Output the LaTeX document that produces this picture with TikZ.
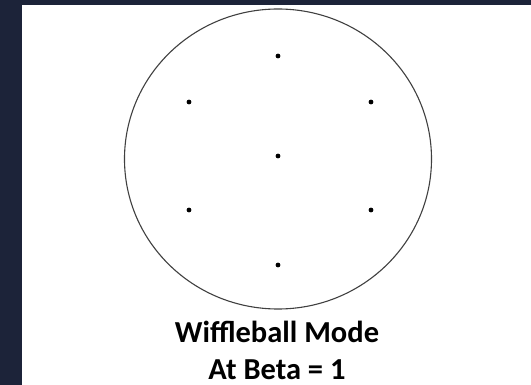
\documentclass[tikz,border=0pt]{standalone}
\usepackage{fontspec}
\setmainfont{Carlito}
\definecolor{navy}{HTML}{1C2339}
\begin{document}
\begin{tikzpicture}[x=1pt,y=-1pt,
  dot/.style={circle,fill=black,inner sep=0pt,minimum size=4.8pt},
  lbl/.style={font=\bfseries\fontsize{30.5}{38}\selectfont,align=center,text=black,inner sep=0pt,text depth=0pt}]
\useasboundingbox (0,0) rectangle (531,385);
\fill[navy] (0,0) rectangle (531,385);
\fill[white] (22,5) rectangle (531,385);
\draw[line width=1.1pt,black!75] (278,159) ellipse [x radius=153.5,y radius=150];
\node[dot] (d1) at (278,56) {};
\node[dot] (d2) at (189,102) {};
\node[dot] (d3) at (371,102) {};
\node[dot] (d4) at (278,156) {};
\node[dot] (d5) at (189,210) {};
\node[dot] (d6) at (371,210) {};
\node[dot] (d7) at (278,265) {};
\node[lbl,anchor=base] (t1) at (277,342) {Wiffleball Mode};
\node[lbl,anchor=base] (t2) at (277,379) {At Beta = 1};
\end{tikzpicture}
\end{document}
